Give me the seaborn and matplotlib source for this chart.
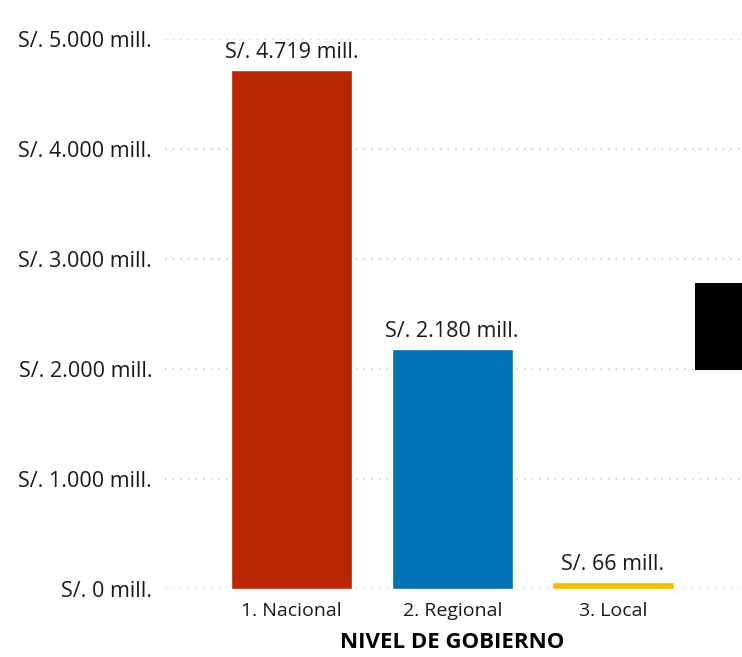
import matplotlib
matplotlib.use("Agg")
import matplotlib.pyplot as plt
import seaborn as sns
import pandas as pd
from matplotlib.patches import Rectangle

categories = ["1. Nacional", "2. Regional", "3. Local"]
values = [4719, 2180, 66]
bar_labels = ["S/. 4.719 mill.", "S/. 2.180 mill.", "S/. 66 mill."]
colors = ["#B82600", "#0072B4", "#FBB900"]
yticks = [0, 1000, 2000, 3000, 4000, 5000]
ytick_labels = ["S/. 0 mill.", "S/. 1.000 mill.", "S/. 2.000 mill.",
                "S/. 3.000 mill.", "S/. 4.000 mill.", "S/. 5.000 mill."]

sns.set_style("white")
plt.rcParams['font.family'] = ['Open Sans', 'DejaVu Sans']

df = pd.DataFrame({"nivel": categories, "monto": values})

fig = plt.figure(figsize=(7.42, 6.57), dpi=100)
ax = fig.add_axes([0.222, 0.1035, 0.775, 0.837])
sns.barplot(data=df, x="nivel", y="monto", hue="nivel", palette=colors,
            width=0.755, legend=False, ax=ax, saturation=1)

ax.set_ylim(0, 5000)
ax.set_xlim(-0.79, 2.79)
ax.set_yticks(yticks)
ax.set_yticklabels(ytick_labels, fontsize=15.5, color="#1A1A1A")
ax.tick_params(axis='x', labelsize=14, colors="#1A1A1A", length=0, pad=9)
ax.tick_params(axis='y', length=0, pad=9)
ax.yaxis.grid(True, linestyle=(0, (1, 4)), color="#C8C8C8", linewidth=1.1)
ax.set_axisbelow(True)
for s in ax.spines.values():
    s.set_visible(False)
ax.set_ylabel("")
ax.set_xlabel("NIVEL DE GOBIERNO", fontsize=16, fontweight="bold", color="#000000", labelpad=9)

for i, cont in enumerate(ax.containers):
    ax.bar_label(cont, labels=[bar_labels[i]], padding=5, fontsize=15.5,
                 color="#1A1A1A", clip_on=False)

fig.add_artist(Rectangle((0.9367, 0.4368), 0.0633, 0.1324, transform=fig.transFigure,
                         facecolor="black", edgecolor="none"))

fig.savefig("out.png", dpi=100)
